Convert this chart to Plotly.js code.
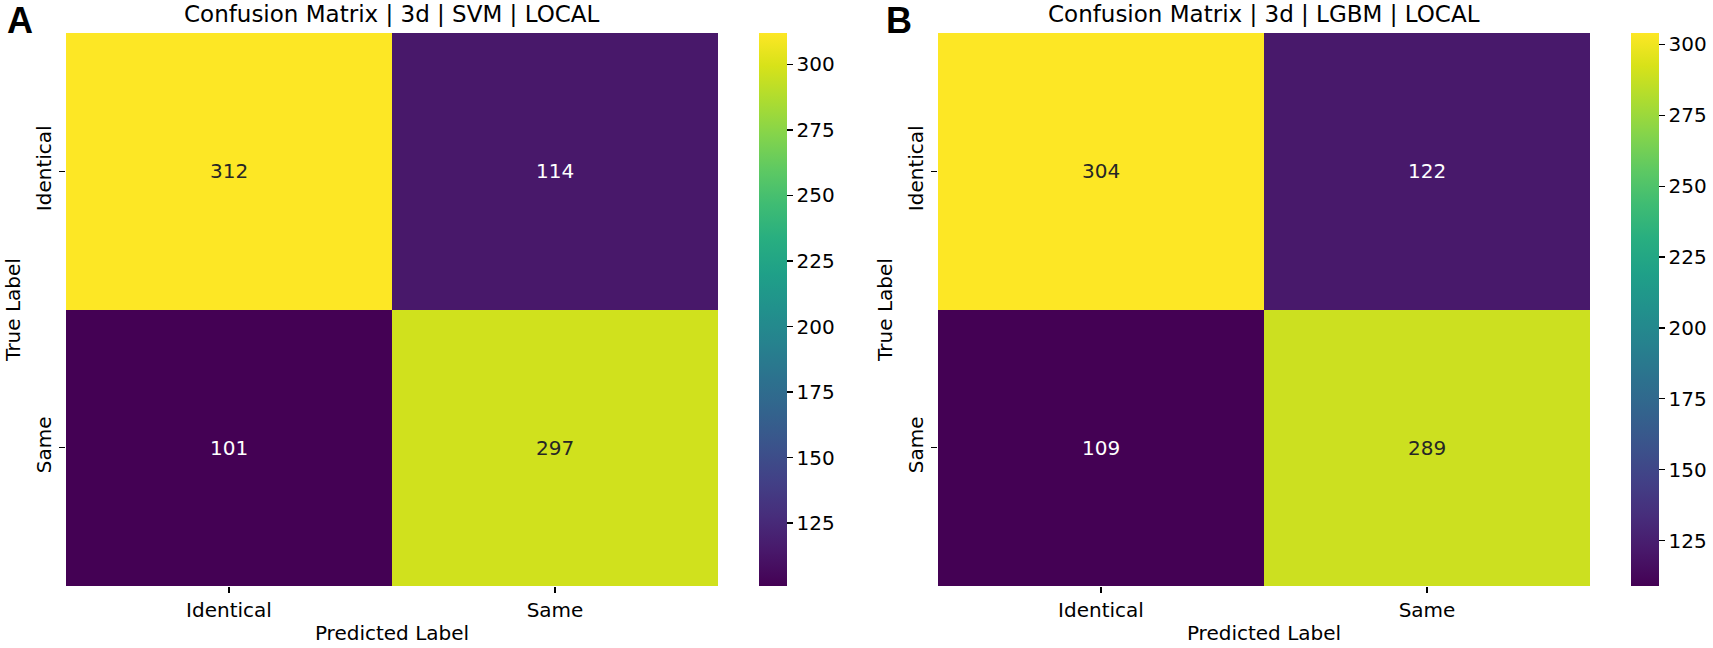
<!DOCTYPE html>
<html>
<head>
<meta charset="utf-8">
<script src="https://cdn.plot.ly/plotly-3.0.1.min.js"></script>
<style>html,body{margin:0;padding:0;background:#fff;}#chart{width:1713px;height:648px;}</style>
</head>
<body>
<div id="chart"></div>
<script>
const categories = ["Identical", "Same"];
const svmValues = [[312, 114], [101, 297]];
const lgbmValues = [[304, 122], [109, 289]];
const colorbarTicks = [125, 150, 175, 200, 225, 250, 275, 300];
const titles = ["Confusion Matrix | 3d | SVM | LOCAL", "Confusion Matrix | 3d | LGBM | LOCAL"];
const panelLetters = ["A", "B"];

const W = 1713, H = 648;
const FONT = "DejaVu Sans, Liberation Sans, sans-serif";
const yTop = 1 - 33 / H, yBot = 1 - 586 / H;
const dom1 = [66 / W, 718 / W], dom2 = [938 / W, 1590 / W];

function cb(xpx) {
  return {
    x: xpx / W, xanchor: "left", xref: "paper",
    y: (yTop + yBot) / 2, yanchor: "middle", yref: "paper",
    len: yTop - yBot, lenmode: "fraction",
    thickness: 28, thicknessmode: "pixels",
    xpad: 0, ypad: 0, outlinewidth: 0,
    tickvals: colorbarTicks, ticks: "outside", ticklen: 6, tickwidth: 1.2, tickcolor: "#000",
    tickfont: {family: FONT, size: 20, color: "#000"}
  };
}

const traces = [
  {type: "heatmap", x: categories, y: categories, z: svmValues, colorscale: "Viridis",
   xaxis: "x", yaxis: "y", colorbar: cb(759), hoverinfo: "z"},
  {type: "heatmap", x: categories, y: categories, z: lgbmValues, colorscale: "Viridis",
   xaxis: "x2", yaxis: "y2", colorbar: cb(1631), hoverinfo: "z"}
];

function cellAnnotations(vals, xa, ya) {
  const flat = vals.flat();
  const mn = Math.min(...flat), mx = Math.max(...flat);
  const out = [];
  vals.forEach((row, i) => row.forEach((v, j) => {
    out.push({x: categories[j], y: categories[i], xref: xa, yref: ya, text: String(v),
      showarrow: false, font: {family: FONT, size: 20, color: v > (mn + mx) / 2 ? "#262626" : "#ffffff"}});
  }));
  return out;
}

const annotations = [
  ...cellAnnotations(svmValues, "x", "y"),
  ...cellAnnotations(lgbmValues, "x2", "y2"),
  {x: (dom1[0] + dom1[1]) / 2, y: 1 - 14 / H, xref: "paper", yref: "paper", text: titles[0], showarrow: false,
   font: {family: FONT, size: 23, color: "#000"}, xanchor: "center", yanchor: "middle"},
  {x: (dom2[0] + dom2[1]) / 2, y: 1 - 14 / H, xref: "paper", yref: "paper", text: titles[1], showarrow: false,
   font: {family: FONT, size: 23, color: "#000"}, xanchor: "center", yanchor: "middle"},
  {x: 5 / W, y: 1 - 20 / H, xref: "paper", yref: "paper", text: "<b>" + panelLetters[0] + "</b>", showarrow: false,
   font: {family: "Liberation Sans, Arial, sans-serif", size: 36, color: "#000"}, xanchor: "left", yanchor: "middle"},
  {x: 884 / W, y: 1 - 20 / H, xref: "paper", yref: "paper", text: "<b>" + panelLetters[1] + "</b>", showarrow: false,
   font: {family: "Liberation Sans, Arial, sans-serif", size: 36, color: "#000"}, xanchor: "left", yanchor: "middle"}
];

function xax(dom, anchor) {
  return {domain: dom, anchor: anchor, type: "category", showgrid: false, zeroline: false, showline: false,
    ticks: "outside", ticklen: 6, tickwidth: 1.2, tickcolor: "#000",
    tickfont: {family: FONT, size: 20, color: "#000"},
    title: {text: "Predicted Label", font: {family: FONT, size: 20, color: "#000"}, standoff: 4},
    fixedrange: true};
}
function yax(anchor) {
  return {domain: [yBot, yTop], anchor: anchor, type: "category", autorange: "reversed",
    showgrid: false, zeroline: false, showline: false,
    ticks: "outside", ticklen: 6, tickwidth: 1.2, tickcolor: "#000", tickangle: -90,
    tickfont: {family: FONT, size: 20, color: "#000"},
    title: {text: "True Label", font: {family: FONT, size: 20, color: "#000"}, standoff: 6},
    fixedrange: true};
}

const layout = {
  width: W, height: H,
  margin: {l: 0, r: 0, t: 0, b: 0},
  paper_bgcolor: "#fff", plot_bgcolor: "#fff",
  showlegend: false,
  xaxis: xax(dom1, "y"), yaxis: yax("x"),
  xaxis2: xax(dom2, "y2"), yaxis2: yax("x2"),
  annotations: annotations
};

Plotly.newPlot("chart", traces, layout, {displayModeBar: false, staticPlot: true});
</script>
</body>
</html>
